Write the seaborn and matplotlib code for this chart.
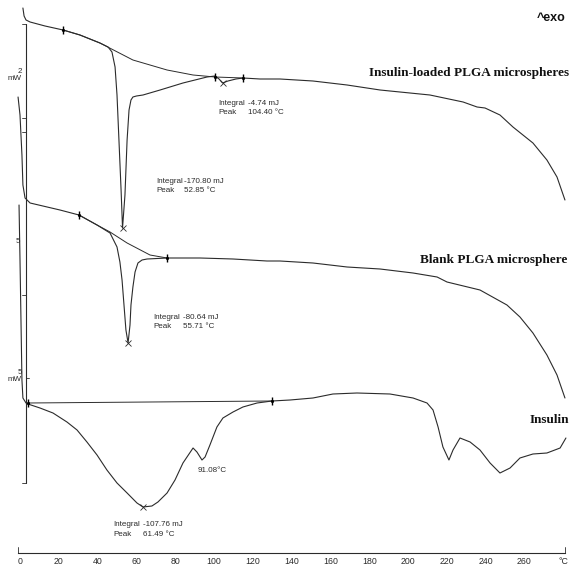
"""DSC thermograms of insulin, blank PLGA and insulin-loaded PLGA microspheres."""

import matplotlib
matplotlib.use("Agg")
import matplotlib.pyplot as plt
import pandas as pd
import seaborn as sns

# temperature (deg C) and heat flow read downward (endo = larger value)
loaded_t = [1.5, 2.1, 3.1, 5.2, 12.9, 22.2, 30.9, 41.2, 45.4, 47.4, 49.0, 50.0, 51.0,
            52.1, 52.85, 54.1, 55.2, 56.2, 57.2, 58.2, 60.0, 63.4, 72.2, 84.0, 96.4,
            100.5, 102.6, 104.4, 107.2, 111.3, 115.0, 123.7, 134.0, 151.0, 168.6,
            185.6, 190.7, 211.3, 228.4, 235.6, 239.7, 247.4, 254.1, 264.4, 271.6,
            276.8, 280.9]
loaded_hf = [8, 16, 20, 22, 26, 30, 35, 43, 47, 52, 67, 95, 140,
             190, 228, 195, 140, 110, 100, 97, 96, 95, 90, 83, 77,
             76, 79, 83, 81, 79, 78, 79, 79, 81, 85,
             90, 91, 95, 102, 107, 108, 115, 127, 143, 160,
             177, 200]
loaded_base_t = [22.2, 30.9, 41.2, 58.2, 75.8, 89.2, 100.5]
loaded_base_hf = [30, 35, 43, 60, 70, 75, 77]
loaded_small_base_t = [100.5, 115.0]
loaded_small_base_hf = [77, 78]

blank_t = [-1.0, 0.0, 1.0, 1.5, 2.6, 5.2, 20.6, 30.4, 39.7, 46.4, 50.0, 51.5, 52.6,
           53.6, 54.6, 55.71, 56.7, 57.2, 58.2, 59.3, 60.8, 62.9, 65.5, 75.8, 92.8,
           109.8, 127.3, 134.0, 151.0, 168.6, 185.6, 202.6, 215.0, 220.1, 237.1,
           251.0, 257.7, 264.4, 271.6, 276.8, 280.9]
blank_hf = [97, 115, 155, 185, 198, 203, 210, 215, 225, 233, 247, 262, 280,
            305, 330, 343, 325, 305, 287, 272, 263, 260, 259, 258, 258,
            259, 261, 261, 263, 267, 269, 273, 277, 282, 290,
            305, 317, 333, 355, 375, 398]
blank_base_t = [30.4, 39.7, 46.4, 55.2, 67.0, 75.8]
blank_base_hf = [215, 225, 232, 243, 255, 258]

insulin_t = [-0.5, 0.0, 0.5, 1.0, 1.5, 3.1, 4.1, 10.3, 17.0, 24.2, 29.4, 34.5, 39.7,
             44.8, 50.0, 55.2, 60.3, 63.4, 68.0, 71.1, 75.8, 79.9, 84.0, 89.2, 91.2,
             93.8, 95.4, 97.9, 101.5, 104.6, 109.8, 114.9, 122.2, 129.9, 139.2, 151.0,
             161.3, 173.7, 190.7, 202.6, 209.8, 212.9, 215.5, 218.0, 221.1, 223.2,
             226.8, 232.0, 237.1, 242.3, 247.4, 252.6, 257.7, 264.4, 271.6, 278.4,
             281.4]
insulin_hf = [205, 260, 320, 380, 398, 403, 404, 408, 413, 422, 430, 442, 455,
              470, 483, 493, 503, 507, 506, 502, 493, 480, 463, 448, 452,
              460, 457, 445, 427, 418, 412, 407, 403, 401, 400, 398,
              394, 393, 394, 398, 403, 410, 427, 447, 460, 450,
              438, 442, 450, 463, 473, 468, 458, 454, 453, 448,
              438]
insulin_base_t = [4.1, 129.9]
insulin_base_hf = [403, 401]

peak_t = [52.85, 104.4, 55.71, 63.4]
peak_hf = [228, 83, 343, 507]
limit_t = [22.2, 100.5, 115.0, 30.4, 75.8, 4.1, 129.9]
limit_hf = [30, 77, 78, 215, 258, 403, 401]

scale_bar_hf = [24, 483]
scale_ticks_hf = [24, 118, 132, 295, 483]

x_ticks = list(range(0, 290, 20))
x_tick_labels = [str(t) for t in range(0, 280, 20)] + ["°C"]

sns.set_style("white")
plt.rcParams["font.family"] = ["Liberation Sans", "DejaVu Sans"]

INK = "#2b2b2b"
fig = plt.figure(figsize=(5.70, 5.69), dpi=100)
ax = fig.add_axes([0, 0, 1, 1])

curves = [(loaded_t, loaded_hf), (blank_t, blank_hf), (insulin_t, insulin_hf)]
for t, hf in curves:
    df = pd.DataFrame({"t": t, "hf": hf})
    sns.lineplot(data=df, x="t", y="hf", sort=False, estimator=None,
                 color=INK, linewidth=0.8, ax=ax)

for t, hf in [(loaded_base_t, loaded_base_hf), (loaded_small_base_t, loaded_small_base_hf),
              (blank_base_t, blank_base_hf), (insulin_base_t, insulin_base_hf)]:
    ax.plot(t, hf, color=INK, linewidth=0.7)

ax.plot(peak_t, peak_hf, linestyle="none", marker="x", markersize=4,
        markeredgewidth=0.6, color=INK)
ax.plot(limit_t, limit_hf, linestyle="none", marker="|", markersize=6,
        markeredgewidth=1.0, color="black")
ax.plot(limit_t, limit_hf, linestyle="none", marker=".", markersize=2.5, color="black")

# heat-flow scale bar on the left
ax.plot([3.1, 3.1], scale_bar_hf, color=INK, linewidth=0.8)
for y in scale_ticks_hf:
    ax.plot([1.0, 3.1], [y, y], color=INK, linewidth=0.6)
ax.plot([3.1, 4.7], [378, 378], color=INK, linewidth=0.6)
ax.text(1.0, 75, "2\nmW", ha="right", va="center", fontsize=5.8, color=INK,
        multialignment="right", linespacing=1.1)
ax.text(0.2, 241, "5", ha="right", va="center", fontsize=5.8, color=INK)
ax.text(1.0, 376, "5\nmW", ha="right", va="center", fontsize=5.8, color=INK,
        multialignment="right", linespacing=1.0)

# sample labels
serif = ["Liberation Serif", "DejaVu Serif"]
ax.text(282.8, 73, "Insulin-loaded PLGA microspheres", ha="right", va="center",
        fontsize=9.5, fontweight="bold", family=serif, color="#111111")
ax.text(281.9, 260, "Blank PLGA microsphere", ha="right", va="center",
        fontsize=9.5, fontweight="bold", family=serif, color="#111111")
ax.text(282.8, 420, "Insulin", ha="right", va="center",
        fontsize=9.5, fontweight="bold", family=serif, color="#111111")
ax.text(281.4, 18, "^exo", ha="right", va="center", fontsize=9,
        fontweight="bold", color="#111111")

# integration results
results = [
    (102.1, 117.5, 103, "-4.74 mJ", "104.40 °C"),
    (70.1, 84.5, 181, "-170.80 mJ", "52.85 °C"),
    (68.6, 84.0, 317, "-80.64 mJ", "55.71 °C"),
    (47.9, 63.4, 525, "-107.76 mJ", "61.49 °C"),
]
for x0, x1, y, integral, peak in results:
    ax.text(x0, y, "Integral", fontsize=5.8, color=INK, va="center")
    ax.text(x1, y, integral, fontsize=5.8, color=INK, va="center")
    ax.text(x0, y + 9.5, "Peak", fontsize=5.8, color=INK, va="center")
    ax.text(x1, y + 9.5, peak, fontsize=5.8, color=INK, va="center")
ax.text(91.8, 470, "91.08°C", fontsize=5.8, color=INK, va="center")

# temperature axis
ax.set_xlim(-10.31, 283.5)
ax.set_ylim(569, 0)
for side in ["top", "left", "right"]:
    ax.spines[side].set_visible(False)
ax.spines["bottom"].set_position(("data", 553))
ax.spines["bottom"].set_bounds(-1, 281)
ax.spines["bottom"].set_linewidth(0.8)
ax.spines["bottom"].set_color(INK)
ax.set_xticks(x_ticks)
ax.set_xticklabels(x_tick_labels)
ax.set_xticks(range(10, 280, 20), minor=True)
ax.tick_params(axis="x", which="both", direction="in", length=3, width=0.6,
               colors=INK, labelsize=6.3, pad=3)
ax.plot([-1, -1], [547, 553], color=INK, linewidth=0.6)
ax.plot([281, 281], [547, 553], color=INK, linewidth=0.6)
ax.set_yticks([])
ax.set_xlabel("")
ax.set_ylabel("")

fig.savefig("out.png", dpi=100)
